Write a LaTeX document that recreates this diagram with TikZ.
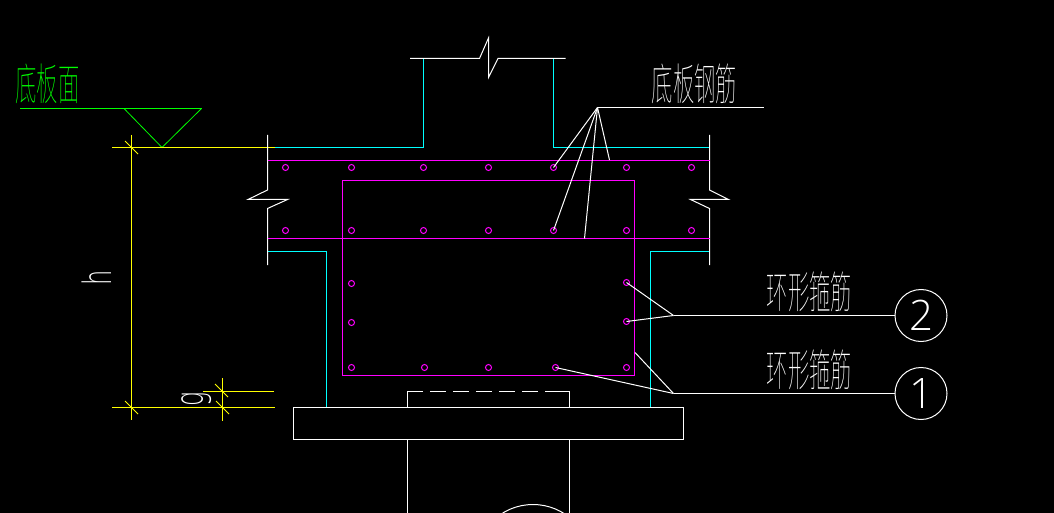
\documentclass[tikz,border=0pt]{standalone}
\usepackage{fontspec}
\newfontfamily\cjk{Noto Sans CJK SC}[UprightFont={* Thin}]
\newfontfamily\digitfont{Open Sans}[UprightFont={* Light}]
\newfontfamily\dimfont{DejaVu Sans}[UprightFont={* ExtraLight}]
\definecolor{cadmag}{RGB}{255,0,255}
\definecolor{cadcyan}{RGB}{0,255,255}
\definecolor{cadyel}{RGB}{255,255,0}
\definecolor{cadgrn}{RGB}{0,255,0}
\tikzset{
  wline/.style={draw=white,line width=1pt,line join=miter},
  mline/.style={draw=cadmag,line width=1pt},
  cline/.style={draw=cadcyan,line width=1pt},
  yline/.style={draw=cadyel,line width=1pt},
  gline/.style={draw=cadgrn,line width=1pt},
  tick/.style={draw=cadyel,line width=.8pt},
  rebar/.style={circle,draw=cadmag,line width=1pt,minimum size=6pt,inner sep=0pt},
  leader/.style={draw=white,line width=1pt},
  cjklabel/.style={text=white,inner sep=0pt,font=\cjk\fontsize{22}{22}\selectfont,xscale=.97,yscale=2},
  callout/.style={circle,draw=white,line width=1pt,minimum size=52pt,inner sep=0pt,text=white,font=\digitfont\fontsize{42}{42}\selectfont},
  dimtext/.style={text=white,inner sep=0pt,font=\dimfont\fontsize{39}{39}\selectfont,rotate=90,xscale=.62}
}
\begin{document}
\begin{tikzpicture}[x=1pt,y=-1pt]
\fill[black] (0,0) rectangle (1054,513);
\useasboundingbox (0,0) rectangle (1054,513);
% ground mark
\draw[gline] (20,108.5) -- (201.5,108.5);
\draw[gline,line width=.8pt] (124,108.5) -- (162,147.5) -- (201.5,108.5);
\node[cjklabel,text=cadgrn] (tbase) at (47.5,84) {底板面};
% dimension lines
\draw[yline] (112,147.5) -- (275,147.5);
\draw[yline] (131.5,135) -- (131.5,420);
\draw[yline] (112,407.5) -- (275,407.5);
\draw[yline] (203,391.5) -- (274,391.5);
\draw[yline] (222.5,378) -- (222.5,421);
\draw[tick] (125,141) -- (138,154);
\draw[tick] (125,401) -- (138,414);
\draw[tick] (215,384) -- (228,397);
\draw[tick] (216,401) -- (229,414);
\node[dimtext] (th) at (96.5,278) {h};
\node[dimtext] (tg) at (196.5,399.5) {g};
% concrete outline
\draw[cline] (275,147.5) -- (423.5,147.5) -- (423.5,58.5);
\draw[cline] (553.5,58.5) -- (553.5,147.5) -- (709.5,147.5);
\draw[cline] (267.5,251.5) -- (326.5,251.5) -- (326.5,407.5);
\draw[cline] (709.5,251.5) -- (650.5,251.5) -- (650.5,407.5);
\draw[wline] (410,58.5) -- (479.5,58.5) -- (488.5,38) -- (488.5,77.5) -- (498,58.5) -- (565.5,58.5);
\draw[wline] (267.5,135) -- (267.5,190) -- (248,199.5) -- (287.5,199.5) -- (267.5,208.5) -- (267.5,265);
\draw[wline] (709.5,135) -- (709.5,190) -- (728.5,199.5) -- (690.5,199.5) -- (709.5,208.5) -- (709.5,265);
% pile cap
\draw[wline] (293.5,407.5) rectangle (683.5,439.5);
\draw[wline] (407.5,407.5) -- (407.5,391.5) -- (423,391.5);
\draw[wline,dash pattern=on 16pt off 7pt] (430,391.5) -- (553.5,391.5);
\draw[wline] (553.5,391.5) -- (569.5,391.5) -- (569.5,407.5);
\draw[wline] (407.5,439.5) -- (407.5,513);
\draw[wline] (569.5,439.5) -- (569.5,513);
\begin{scope}
\clip (0,0) rectangle (1054,513);
\draw[wline] (533,562.5) circle[radius=58];
\end{scope}
% reinforcement
\draw[mline] (267.5,160.5) -- (709.5,160.5);
\draw[mline] (267.5,238.5) -- (709.5,238.5);
\draw[mline] (342.5,180.5) rectangle (634.5,375.5);
\foreach \n/\x in {a/285.5,b/351.5,c/423.5,d/488.5,e/553.5,f/626.5,g/691.5}{
  \node[rebar] (top\n) at (\x,167.5) {};
  \node[rebar] (mid\n) at (\x,230.5) {};
}
\node[rebar] (la) at (351.5,283.5) {};
\node[rebar] (lb) at (351.5,322.5) {};
\node[rebar] (ra) at (626.5,282.5) {};
\node[rebar] (rb) at (626.5,321.5) {};
\foreach \n/\x in {a/351.5,b/424.5,c/488.5,d/555.5,e/626.5}{
  \node[rebar] (bot\n) at (\x,367.5) {};
}
% leaders
\coordinate (hubA) at (597.5,107.5);
\coordinate (endA) at (763.5,107.5);
\coordinate (barT) at (609.5,160);
\coordinate (barB) at (584.5,238.5);
\coordinate (hubB) at (673.5,315.5);
\coordinate (hubC) at (673.5,393.5);
\coordinate (rectC) at (635,352.5);
\draw[leader] (hubA) -- (endA);
\draw[leader] (hubA) -- (tope.center);
\draw[leader] (hubA) -- (mide.center);
\draw[leader] (hubA) -- (barB);
\draw[leader] (hubA) -- (barT);
\node[cjklabel] (tbar) at (694.5,84) {底板钢筋};
\node[callout] (c2) at (921,315.5) {2};
\node[callout] (c1) at (921,393.5) {1};
\draw[leader] (hubB) -- (c2);
\draw[leader] (hubC) -- (c1);
\draw[leader] (hubB) -- (ra.center);
\draw[leader] (hubB) -- (rb.center);
\draw[leader] (hubC) -- (rectC);
\draw[leader] (hubC) -- (botd.center);
\node[cjklabel] (tring) at (809.5,292) {环形箍筋};
\node[cjklabel] (tringb) at (809.5,370) {环形箍筋};
\end{tikzpicture}
\end{document}
